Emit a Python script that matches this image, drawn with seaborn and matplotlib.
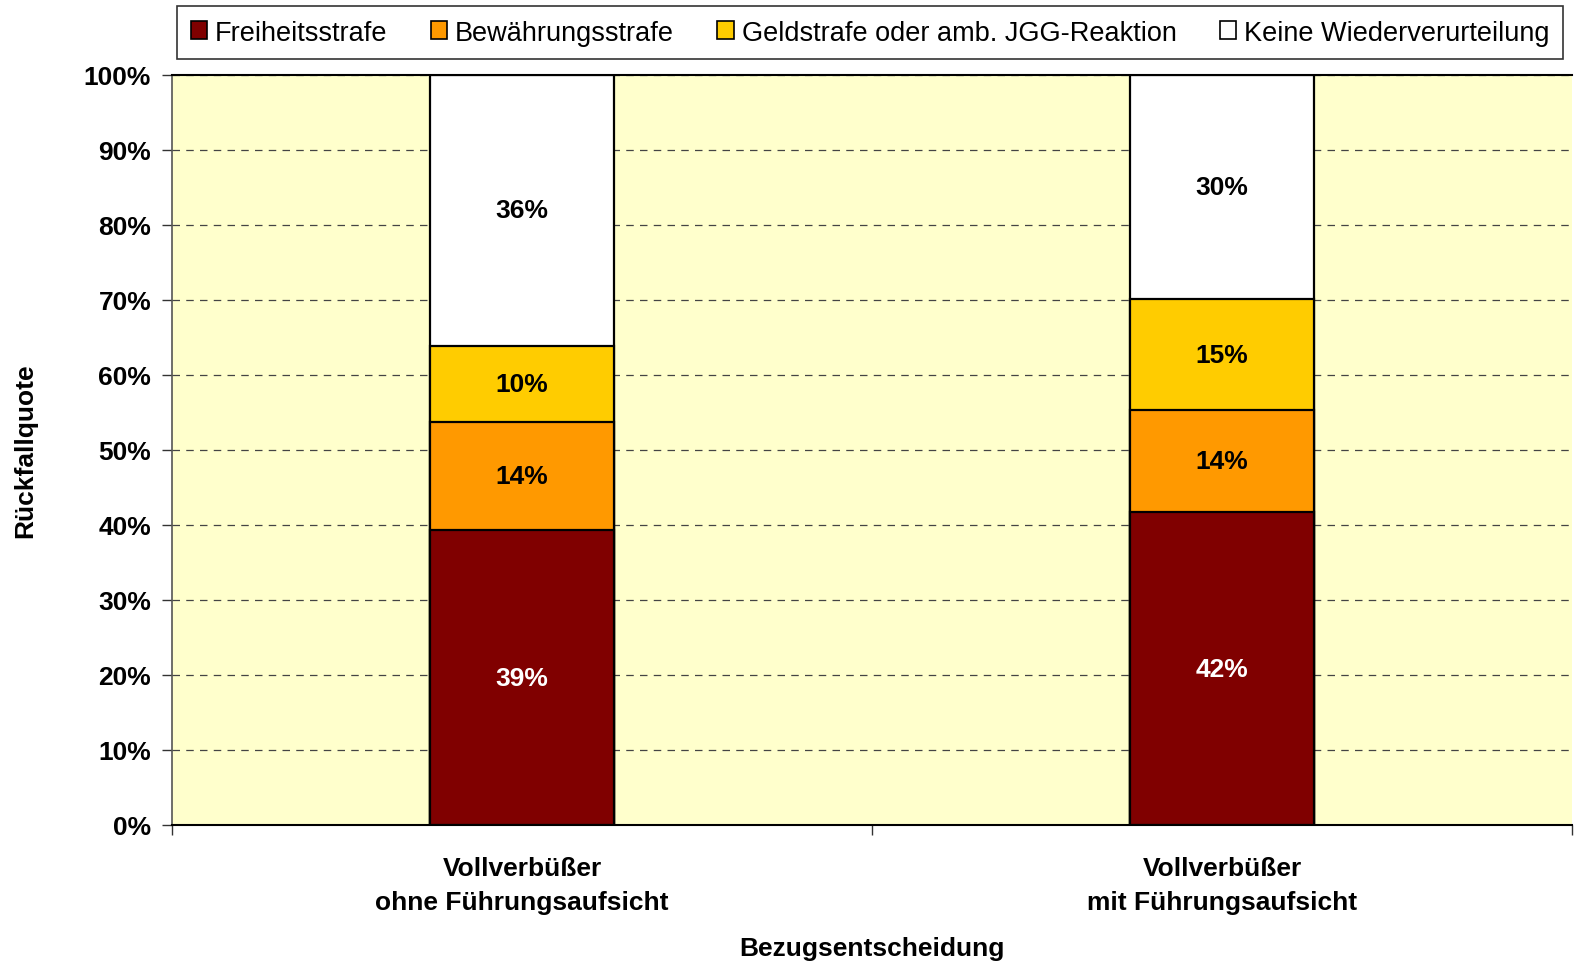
import matplotlib
matplotlib.use("Agg")
import matplotlib.pyplot as plt
import numpy as np
import seaborn as sns
from matplotlib.patches import Patch

categories = ["Vollverbüßer\nohne Führungsaufsicht", "Vollverbüßer\nmit Führungsaufsicht"]
series_names = ["Freiheitsstrafe", "Bewährungsstrafe",
                "Geldstrafe oder amb. JGG-Reaktion", "Keine Wiederverurteilung"]
freiheit = [39.3, 41.7]
bewaehrung = [14.4, 13.6]
geld = [10.2, 14.8]
keine = [36.1, 29.9]
colors = ["#800000", "#FF9900", "#FFCC00", "#FFFFFF"]
label_colors = ["white", "black", "black", "black"]


def main():
    sns.set_theme(style="white")
    plt.rcParams["font.family"] = ["Liberation Sans", "DejaVu Sans"]
    plt.rcParams["text.color"] = "black"
    plt.rcParams["axes.labelcolor"] = "black"
    plt.rcParams["xtick.color"] = "black"
    plt.rcParams["ytick.color"] = "black"

    fig = plt.figure(figsize=(15.78, 9.70), dpi=100)
    ax = fig.add_axes([172 / 1578, 1 - 826 / 970, 1400 / 1578, 750 / 970])
    ax.set_facecolor("#FFFFCC")

    layers = np.array([freiheit, bewaehrung, geld, keine])
    tops = layers.cumsum(axis=0)

    # draw cumulative bars from the top layer down so they stack
    for i in range(len(layers) - 1, -1, -1):
        sns.barplot(x=categories, y=tops[i], color=colors[i], saturation=1,
                    width=0.263, edgecolor="black", linewidth=1.6, ax=ax)

    for i in range(len(layers)):
        for j in range(len(categories)):
            mid = tops[i][j] - layers[i][j] / 2
            ax.text(j, mid, f"{layers[i][j]:.0f}%", ha="center", va="center",
                    fontsize=19, fontweight="bold", color=label_colors[i])

    ax.set_xlim(-0.5, 1.5)
    ax.set_ylim(0, 100)
    ax.set_yticks(np.arange(0, 101, 10))
    ax.set_yticklabels([f"{v}%" for v in range(0, 101, 10)],
                       fontsize=19, fontweight="bold")
    ax.yaxis.grid(True, linestyle=(0, (6, 5)), color="#444444", linewidth=0.9)
    ax.set_axisbelow(True)

    ax.set_xticks([-0.5, 0.5, 1.5])
    ax.set_xticklabels([])
    ax.set_xticks([0, 1], minor=True)
    ax.set_xticklabels(categories, minor=True, fontsize=19,
                       fontweight="bold", linespacing=1.55)
    ax.tick_params(axis="x", which="major", direction="out", length=7,
                   width=1, color="#333333", bottom=True)
    ax.tick_params(axis="x", which="minor", length=0, pad=22)
    ax.tick_params(axis="y", direction="out", length=7, width=1,
                   color="#333333", left=True, pad=8)

    ax.set_xlabel("Bezugsentscheidung", fontsize=19, fontweight="bold",
                  labelpad=16)
    ax.set_ylabel("Rückfallquote", fontsize=19, fontweight="bold")
    ax.yaxis.set_label_coords(-0.0964, 0.5)

    for side in ["top", "bottom"]:
        ax.spines[side].set_color("black")
        ax.spines[side].set_linewidth(1.5)
    ax.spines["left"].set_color("#555555")
    ax.spines["left"].set_linewidth(1.2)
    ax.spines["right"].set_visible(False)

    handles = [Patch(facecolor=c, edgecolor="black", linewidth=1.2) for c in colors]
    leg = fig.legend(handles, series_names, loc="upper left", ncol=4,
                     bbox_to_anchor=(177 / 1578, 1 - 7 / 970),
                     frameon=True, fancybox=False, fontsize=19.5,
                     handlelength=0.6, handleheight=0.6, handletextpad=0.3,
                     columnspacing=1.6, borderpad=0.5, borderaxespad=0)
    leg.get_frame().set_edgecolor("black")
    leg.get_frame().set_linewidth(1.2)
    for t in leg.get_texts():
        t.set_color("black")

    fig.savefig("out.png", dpi=100)


if __name__ == "__main__":
    main()
